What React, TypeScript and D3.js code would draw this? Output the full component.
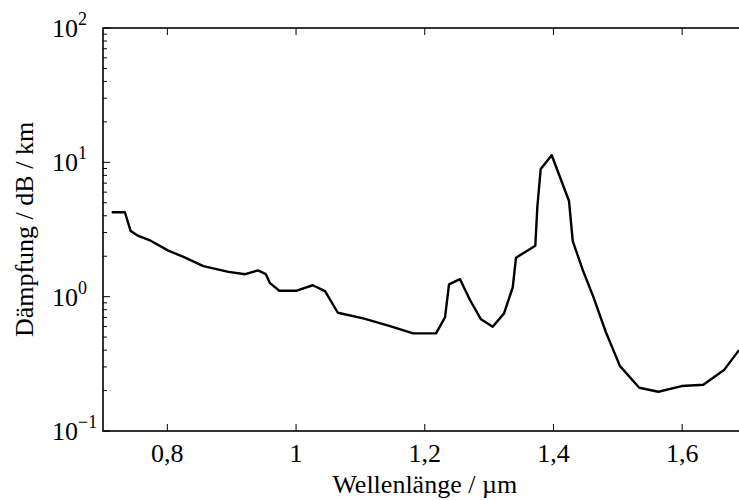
import React from "react";
import * as d3 from "d3";

const wavelength = [
  0.7135, 0.734, 0.743, 0.755, 0.772, 0.8015, 0.825, 0.856, 0.895, 0.921,
  0.941, 0.953, 0.9595, 0.974, 1.001, 1.026, 1.045, 1.065, 1.1045, 1.146,
  1.182, 1.2175, 1.2315, 1.2377, 1.2548, 1.2703, 1.2874, 1.3056, 1.3232, 1.3367,
  1.3418, 1.3718, 1.375, 1.3802, 1.3973, 1.4242, 1.43, 1.4455, 1.4619, 1.4812,
  1.5034, 1.5334, 1.563, 1.5993, 1.6329, 1.665, 1.6883,
];
const attenuation = [
  4.25, 4.25, 3.08, 2.83, 2.64, 2.2, 1.98, 1.69, 1.53, 1.47,
  1.57, 1.47, 1.26, 1.107, 1.107, 1.216, 1.1, 0.759, 0.689, 0.604,
  0.533, 0.533, 0.701, 1.235, 1.35, 0.944, 0.678, 0.597, 0.751, 1.17,
  1.95, 2.39, 4.67, 8.92, 11.3, 5.15, 2.59, 1.58, 1.0, 0.548,
  0.304, 0.21, 0.196, 0.216, 0.221, 0.284, 0.4,
];
const xTicks = [0.8, 1.0, 1.2, 1.4, 1.6];
const xTickLabels = ["0,8", "1", "1,2", "1,4", "1,6"];
const yExponents = [-1, 0, 1, 2];
const xDomain = [0.7, 1.7];
const yDomain = [0.1, 100];
const xLabel = "Wellenlänge / µm";
const yLabel = "Dämpfung / dB / km";

const W = 739;
const H = 500;
const left = 103;
const right = 746.5;
const top = 28;
const bottom = 431;
const FONT = "'Liberation Serif', 'Times New Roman', serif";

export default function App() {
  const x = d3.scaleLinear().domain(xDomain).range([left, right]);
  const y = d3.scaleLog().domain(yDomain).range([bottom, top]);
  const line = d3
    .line<number>()
    .x((_, i) => x(wavelength[i]))
    .y((d) => y(d));

  const minor: number[] = [];
  for (let e = -1; e < 2; e++) {
    for (let m = 2; m <= 9; m++) minor.push(m * Math.pow(10, e));
  }

  return (
    <svg
      width={W}
      height={H}
      style={{ position: "absolute", left: 0, top: 0, background: "#fff" }}
      fontFamily={FONT}
    >
      <rect x={0} y={0} width={W} height={H} fill="#fff" />
      <rect
        x={left}
        y={top}
        width={right - left}
        height={bottom - top}
        fill="none"
        stroke="#000"
        strokeWidth={1.6}
      />
      {xTicks.map((t, i) => (
        <g key={"xt" + i}>
          <line x1={x(t)} x2={x(t)} y1={bottom} y2={bottom - 7} stroke="#000" strokeWidth={1} />
          <line x1={x(t)} x2={x(t)} y1={top} y2={top + 7} stroke="#000" strokeWidth={1} />
          <text x={x(t)} y={462} textAnchor="middle" fontSize={26}>
            {xTickLabels[i]}
          </text>
        </g>
      ))}
      {yExponents.map((e) => {
        const v = Math.pow(10, e);
        return (
          <g key={"ye" + e}>
            <line x1={left} x2={left + 7} y1={y(v)} y2={y(v)} stroke="#000" strokeWidth={1} />
            <line x1={right} x2={right - 7} y1={y(v)} y2={y(v)} stroke="#000" strokeWidth={1} />
            <text x={52} y={y(v) + 9} fontSize={26}>
              10
              <tspan dy={-12} fontSize={18}>
                {e < 0 ? "\u2212" + Math.abs(e) : String(e)}
              </tspan>
            </text>
          </g>
        );
      })}
      {minor.map((v, i) => (
        <g key={"ym" + i}>
          <line x1={left} x2={left + 4} y1={y(v)} y2={y(v)} stroke="#000" strokeWidth={1} />
          <line x1={right} x2={right - 4} y1={y(v)} y2={y(v)} stroke="#000" strokeWidth={1} />
        </g>
      ))}
      <path
        d={line(attenuation) || ""}
        fill="none"
        stroke="#000"
        strokeWidth={2.4}
        strokeLinejoin="round"
      />
      <text x={(left + right) / 2} y={493} textAnchor="middle" fontSize={26}>
        {xLabel}
      </text>
      <text
        transform={`translate(33, ${(top + bottom) / 2}) rotate(-90)`}
        textAnchor="middle"
        fontSize={26}
      >
        {yLabel}
      </text>
    </svg>
  );
}
